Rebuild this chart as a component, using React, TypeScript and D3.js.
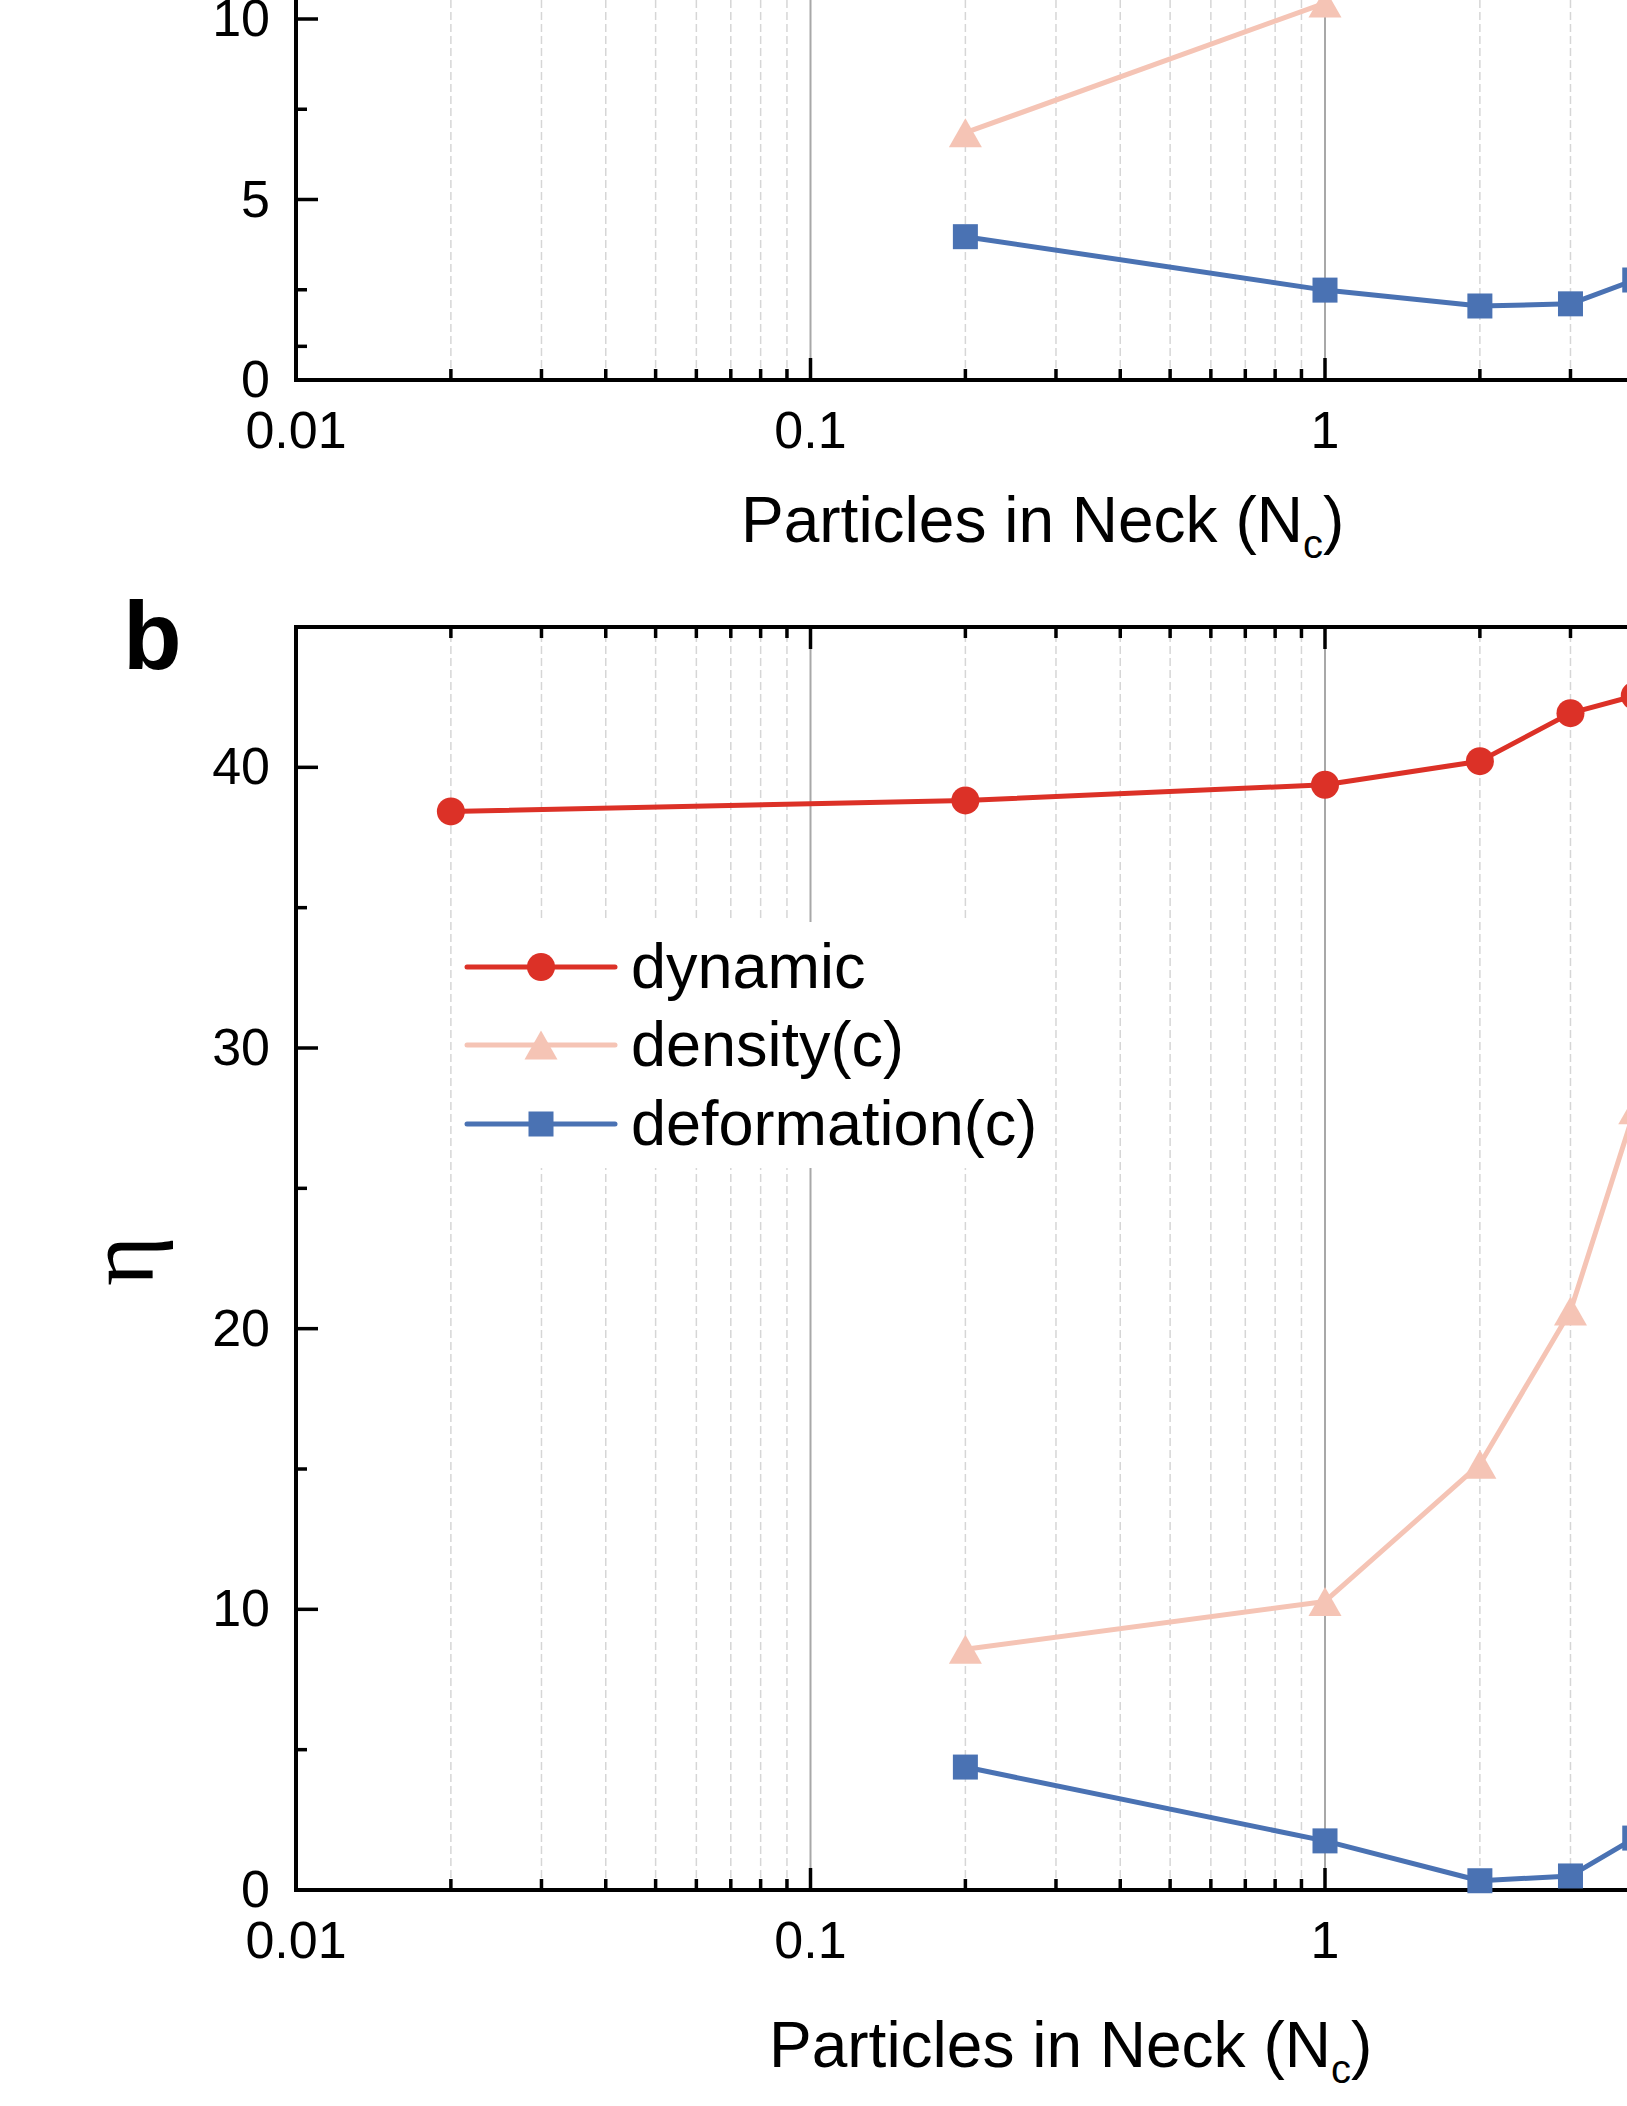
import * as d3 from "d3";

// Panel a: only the part that is visible in the picture
const aDensityNc = [0.2, 1];
const aDensity = [6.85, 10.44];
const aDeformNc = [0.2, 1, 2, 3, 4];
const aDeformation = [3.97, 2.49, 2.05, 2.11, 2.77];

// Panel b
const bDynamicNc = [0.02, 0.2, 1, 2, 3, 4];
const bDynamic = [38.43, 38.82, 39.38, 40.22, 41.93, 42.55];
const bNc = [0.2, 1, 2, 3, 4];
const bDensity = [8.58, 10.28, 15.17, 20.63, 27.8];
const bDeformation = [4.38, 1.75, 0.33, 0.5, 1.85];

const seriesNames = ["dynamic", "density(c)", "deformation(c)"];
const seriesColors = ["#dc3127", "#f5c4b5", "#4a72b3"];
const seriesShapes = ["circle", "triangle", "square"];

const xTickLabels = ["0.01", "0.1", "1"];
const aYTicks = [0, 5, 10];
const bYTicks = [0, 10, 20, 30, 40];

const W = 1627;
const H = 2106;
const FONT = "'Liberation Sans', Arial, Helvetica, sans-serif";

const x = d3.scaleLog().domain([0.01, 10]).range([296, 296 + 3 * 514.5]);
const yA = d3.scaleLinear().domain([0, 10]).range([380, 19]);
const yB = d3.scaleLinear().domain([0, 45]).range([1890, 627]);

const isMajor = (t: number) => Math.abs(Math.log10(t) - Math.round(Math.log10(t))) < 1e-9;

function Marker({ shape, cx, cy, color }: { shape: string; cx: number; cy: number; color: string }) {
  if (shape === "circle") return <circle cx={cx} cy={cy} r={14} fill={color} />;
  if (shape === "square") return <rect x={cx - 12.5} y={cy - 12.5} width={25} height={25} fill={color} />;
  const s = 33;
  const h = 29;
  const pts = [
    [cx, cy - h / 2],
    [cx + s / 2, cy + h / 2],
    [cx - s / 2, cy + h / 2],
  ];
  return <polygon points={pts.map((p) => p.join(",")).join(" ")} fill={color} />;
}

function Series({ xs, ys, y, idx }: { xs: number[]; ys: number[]; y: any; idx: number }) {
  const pts = xs.map((v, i) => [x(v), y(ys[i])] as [number, number]);
  const line = d3.line();
  return (
    <g>
      <path d={line(pts) || ""} fill="none" stroke={seriesColors[idx]} strokeWidth={5} strokeLinejoin="round" />
      {pts.map((p, i) => (
        <Marker key={i} shape={seriesShapes[idx]} cx={p[0]} cy={p[1]} color={seriesColors[idx]} />
      ))}
    </g>
  );
}

function Frame({ y, top, yTicks, minorStep, showTop }: { y: any; top: number; yTicks: number[]; minorStep: number; showTop: boolean }) {
  const y0 = y.range()[0];
  const x0 = x.range()[0];
  const xTicks = x.ticks();
  const yMax = y.invert(top);
  const minors: number[] = [];
  for (let v = minorStep; v < yMax + 20; v += minorStep * 2) minors.push(v);
  return (
    <g>
      {/* vertical grid */}
      {xTicks
        .filter((t) => t > 0.01)
        .map((t, i) =>
          isMajor(t) ? (
            <line key={i} x1={x(t)} x2={x(t)} y1={y0} y2={top} stroke="#a8a8a8" strokeWidth={2} />
          ) : (
            <line key={i} x1={x(t)} x2={x(t)} y1={y0} y2={top} stroke="#d6d6d6" strokeWidth={1.5} strokeDasharray="8 4" />
          )
        )}
      {/* x ticks */}
      {xTicks.map((t, i) => {
        const len = isMajor(t) ? 22 : 11;
        return (
          <g key={i}>
            <line x1={x(t)} x2={x(t)} y1={y0} y2={y0 - len} stroke="#000" strokeWidth={3.5} />
            {showTop && <line x1={x(t)} x2={x(t)} y1={top} y2={top + len} stroke="#000" strokeWidth={3.5} />}
          </g>
        );
      })}
      {xTickLabels.map((l) => (
        <text key={l} x={x(+l)} y={y0 + 68} textAnchor="middle" fontSize={52} fontFamily={FONT} fill="#000">
          {l}
        </text>
      ))}
      {/* y ticks */}
      {yTicks.map((v) => (
        <g key={v}>
          <line x1={x0} x2={x0 + 22} y1={y(v)} y2={y(v)} stroke="#000" strokeWidth={3.5} />
          <text x={270} y={y(v) + 17} textAnchor="end" fontSize={52} fontFamily={FONT} fill="#000">
            {v}
          </text>
        </g>
      ))}
      {minors.map((v) => (
        <line key={v} x1={x0} x2={x0 + 11} y1={y(v)} y2={y(v)} stroke="#000" strokeWidth={3.5} />
      ))}
      {/* axes */}
      <line x1={x0} x2={W + 20} y1={y0} y2={y0} stroke="#000" strokeWidth={4} />
      <line x1={x0} x2={x0} y1={y0 + 2} y2={top} stroke="#000" strokeWidth={4} />
      {showTop && <line x1={x0 - 2} x2={W + 20} y1={top} y2={top} stroke="#000" strokeWidth={4} />}
    </g>
  );
}

function Title({ x0, y0 }: { x0: number; y0: number }) {
  return (
    <text x={x0} y={y0} fontSize={64} fontFamily={FONT} fill="#000">
      Particles in Neck (N
      <tspan dy={16} fontSize={40}>
        c
      </tspan>
      <tspan dy={-16}>)</tspan>
    </text>
  );
}

function Legend() {
  const rows = [967, 1045, 1124];
  return (
    <g>
      <rect x={458} y={922} width={592} height={246} fill="#fff" />
      {seriesNames.map((n, i) => (
        <g key={n}>
          <line x1={467} x2={615} y1={rows[i]} y2={rows[i]} stroke={seriesColors[i]} strokeWidth={5} strokeLinecap="round" />
          <Marker shape={seriesShapes[i]} cx={541} cy={rows[i]} color={seriesColors[i]} />
          <text x={631} y={rows[i] + 21} fontSize={63} fontFamily={FONT} fill="#000">
            {n}
          </text>
        </g>
      ))}
    </g>
  );
}

export default function App() {
  return (
    <div style={{ position: "absolute", left: 0, top: 0, width: W, height: H, overflow: "hidden", background: "#fff" }}>
      <svg width={W} height={H} viewBox={`0 0 ${W} ${H}`}>
        <rect width={W} height={H} fill="#fff" />
        {/* panel a (cropped at the top) */}
        <Frame y={yA} top={-60} yTicks={aYTicks} minorStep={2.5} showTop={false} />
        <Series xs={aDensityNc} ys={aDensity} y={yA} idx={1} />
        <Series xs={aDeformNc} ys={aDeformation} y={yA} idx={2} />
        <Title x0={741} y0={542} />

        {/* panel b */}
        <text x={123} y={669} fontSize={96} fontWeight="bold" fontFamily={FONT} fill="#000">
          b
        </text>
        <Frame y={yB} top={627} yTicks={bYTicks} minorStep={5} showTop={true} />
        <Legend />
        <Series xs={bDynamicNc} ys={bDynamic} y={yB} idx={0} />
        <Series xs={bNc} ys={bDensity} y={yB} idx={1} />
        <Series xs={bNc} ys={bDeformation} y={yB} idx={2} />
        <text
          transform="translate(153,1261) rotate(-90)"
          textAnchor="middle"
          fontSize={96}
          fontFamily="'Liberation Serif', 'DejaVu Serif', serif"
          fill="#000"
        >
          η
        </text>
        <Title x0={769} y0={2067} />
      </svg>
    </div>
  );
}
